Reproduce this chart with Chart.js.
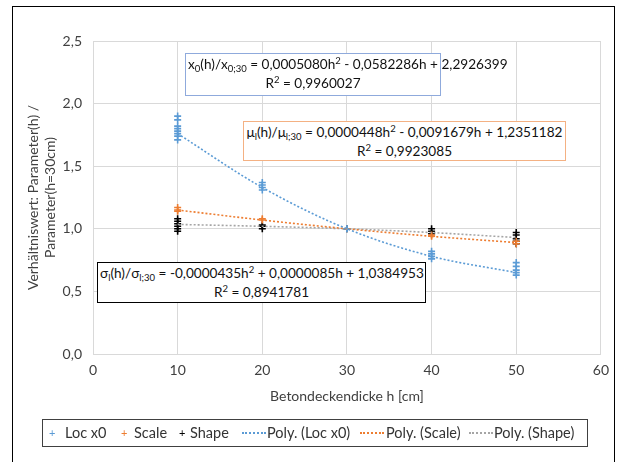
<!DOCTYPE html>
<html>
<head>
<meta charset="utf-8">
<script src="https://cdn.jsdelivr.net/npm/chart.js@4/dist/chart.umd.min.js"></script>
<style>
  html, body { margin:0; padding:0; background:#fff; overflow:hidden; }
  #wrap { position:relative; width:617px; height:462px; font-family: Lato, "Noto Sans", sans-serif; }
  #c { position:absolute; left:0; top:0; }
  #frame { position:absolute; left:12px; top:6px; width:603px; height:480px; border:1.5px solid #000; box-sizing:border-box; pointer-events:none; }
  .eq { position:absolute; background:#fff; font-size:13.6px; color:#111; text-align:center; line-height:19px; padding:1px 2px; box-sizing:border-box; white-space:nowrap; }
  .eq sub { font-size:9.5px; vertical-align:-3px; line-height:0; }
  .eq sup { font-size:9.5px; vertical-align:5px; line-height:0; }
  #legend { position:absolute; left:42px; top:419px; width:546px; height:28px; border:1px solid #404040; box-sizing:border-box; background:#fff; font-size:14.5px; color:#333; }
  .li { position:absolute; top:0; height:26px; line-height:26px; white-space:nowrap; }
  .mk { position:absolute; top:0; height:26px; line-height:26px; font-size:11px; }
  .ln { position:absolute; top:12px; height:0; width:24px; border-top:2px dotted; }
</style>
</head>
<body>
<div id="wrap">
  <canvas id="c" width="617" height="462"></canvas>
  <div id="frame"></div>

  <div class="eq" id="eqLoc" style="left:185px; top:53px; width:256px; height:43px; border:1px solid #8faadc;">x<sub>0</sub>(h)/x<sub>0;30</sub> = 0,0005080h<sup>2</sup> - 0,0582286h + 2,2926399<br>R<sup>2</sup> = 0,9960027</div>
  <div class="eq" id="eqScale" style="left:243px; top:121px; width:323px; height:40px; border:1px solid #f4b183;">&mu;<sub>l</sub>(h)/&mu;<sub>l;30</sub> = 0,0000448h<sup>2</sup> - 0,0091679h + 1,2351182<br>R<sup>2</sup> = 0,9923085</div>
  <div class="eq" id="eqShape" style="left:97px; top:262px; width:329px; height:41px; border:1px solid #000;">&sigma;<sub>l</sub>(h)/&sigma;<sub>l;30</sub> = -0,0000435h<sup>2</sup> + 0,0000085h + 1,0384953<br>R<sup>2</sup> = 0,8941781</div>

  <div id="legend">
    <span class="mk" style="left:6px; color:#5b9bd5;">+</span><span class="li" style="left:22px;">Loc x0</span>
    <span class="mk" style="left:78px; color:#ed7d31;">+</span><span class="li" style="left:91px;">Scale</span>
    <span class="mk" style="left:136px; color:#000;">+</span><span class="li" style="left:147px;">Shape</span>
    <span class="ln" style="left:199px; border-color:#5b9bd5;"></span><span class="li" style="left:224px;">Poly. (Loc x0)</span>
    <span class="ln" style="left:317px; border-color:#ed7d31;"></span><span class="li" style="left:343px;">Poly. (Scale)</span>
    <span class="ln" style="left:426px; border-color:#a5a5a5;"></span><span class="li" style="left:451px;">Poly. (Shape)</span>
  </div>
</div>
<script>
// ---- data ----
const categoriesH = [10, 20, 30, 40, 50];

const locX0H = [10,10,10,10,10,10,10,10, 20,20,20,20, 30,30, 40,40,40,40, 50,50,50,50,50];
const locX0V = [1.90,1.87,1.82,1.80,1.78,1.76,1.74,1.71, 1.37,1.35,1.33,1.31, 1.00,1.00, 0.82,0.80,0.78,0.76, 0.73,0.70,0.67,0.65,0.63];

const scaleH = [10,10,10, 20,20, 30, 40,40, 50,50];
const scaleV = [1.17,1.15,1.14, 1.08,1.07, 1.00, 0.95,0.94, 0.90,0.88];

const shapeH = [10,10,10,10,10,10, 20,20,20, 30, 40,40,40, 50,50,50,50,50];
const shapeV = [1.08,1.06,1.04,1.02,1.00,0.98, 1.03,1.02,1.00, 1.00, 1.00,0.98,0.96, 0.97,0.95,0.92,0.90,0.88];

// trendline values at each thickness
const trendLocX0 = [1.76, 1.33, 1.00, 0.78, 0.65];
const trendScale = [1.15, 1.07, 1.00, 0.94, 0.89];
const trendShape = [1.035, 1.02, 1.00, 0.97, 0.93];

const yTicks = [0, 0.5, 1.0, 1.5, 2.0, 2.5];
const xTicks = [0, 10, 20, 30, 40, 50, 60];

// ---- build datasets ----
const pts = (xs, ys) => xs.map((x, i) => ({x, y: ys[i]}));
const trend = (ys) => categoriesH.map((x, i) => ({x, y: ys[i]}));

const markerDs = (label, xs, ys, color) => ({
  type: 'scatter', label, data: pts(xs, ys),
  pointStyle: 'cross', pointRadius: 3.5, pointBorderWidth: 1.6,
  borderColor: color, backgroundColor: color, showLine: false, order: 2
});
const trendDs = (label, ys, color) => ({
  type: 'line', label, data: trend(ys),
  borderColor: color, borderWidth: 1.6, borderDash: [2, 2],
  pointRadius: 0, fill: false, cubicInterpolationMode: 'monotone', order: 1
});

const grid = '#d9d9d9';
const tickFont = { family: 'Lato, "Noto Sans", sans-serif', size: 14 };

new Chart(document.getElementById('c'), {
  type: 'scatter',
  data: {
    datasets: [
      markerDs('Loc x0', locX0H, locX0V, '#5b9bd5'),
      markerDs('Scale', scaleH, scaleV, '#ed7d31'),
      markerDs('Shape', shapeH, shapeV, '#000000'),
      trendDs('Poly. (Loc x0)', trendLocX0, '#5b9bd5'),
      trendDs('Poly. (Scale)', trendScale, '#ed7d31'),
      trendDs('Poly. (Shape)', trendShape, '#a5a5a5')
    ]
  },
  options: {
    responsive: false, animation: false, devicePixelRatio: 1,
    layout: { padding: { left: 0, right: 15, top: 41, bottom: 52 } },
    plugins: { legend: { display: false }, tooltip: { enabled: false } },
    scales: {
      x: {
        type: 'linear', min: 0, max: 60,
        afterBuildTicks: (s) => { s.ticks = xTicks.map(v => ({value: v})); },
        afterFit: (s) => { s.height = 56; },
        grid: { color: grid, drawTicks: false },
        border: { color: grid },
        ticks: { color: '#404040', font: tickFont, padding: 8, maxRotation: 0 },
        title: { display: true, text: 'Betondeckendicke h [cm]', color: '#404040', font: tickFont, padding: { top: 0, bottom: 5 } }
      },
      y: {
        type: 'linear', min: 0, max: 2.5,
        afterBuildTicks: (s) => { s.ticks = yTicks.map(v => ({value: v})); },
        afterFit: (s) => { s.width = 93; },
        grid: { color: grid, drawTicks: false },
        border: { color: grid },
        ticks: { color: '#404040', font: tickFont, padding: 11, callback: (v) => v.toFixed(1).replace('.', ',') },
        title: { display: true, text: ['Verhältniswert: Parameter(h) /', 'Parameter(h=30cm)'], color: '#404040', font: tickFont, padding: { top: 25, bottom: 0 } }
      }
    }
  }
});
</script>
</body>
</html>
